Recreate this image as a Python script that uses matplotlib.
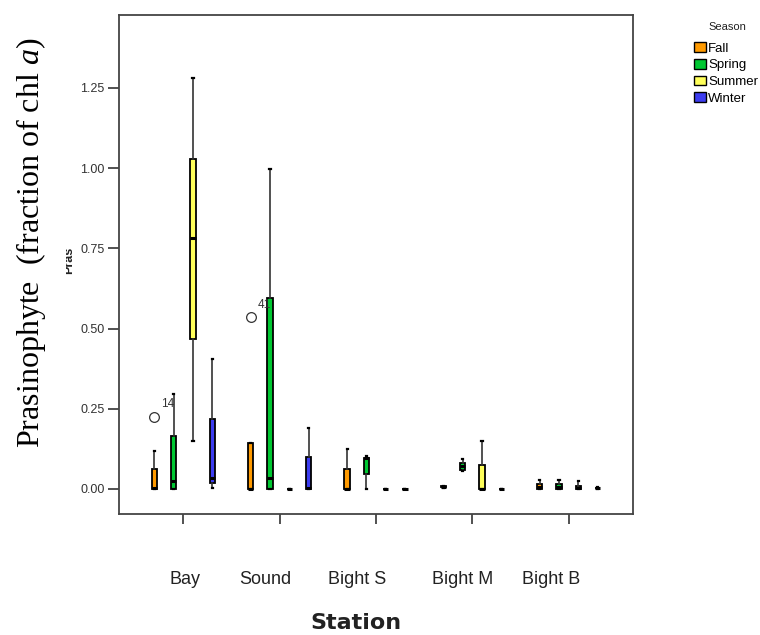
import numpy as np
import matplotlib
matplotlib.use("Agg")
import matplotlib.pyplot as plt
from matplotlib.patches import Patch, Rectangle

plt.rcParams['font.family'] = ['Liberation Sans', 'DejaVu Sans']
plt.rcParams['mathtext.fontset'] = 'custom'
plt.rcParams['mathtext.rm'] = 'Liberation Serif'
plt.rcParams['mathtext.it'] = 'Liberation Serif:italic'

# data
stations = ['Bay', 'Sound', 'Bight S', 'Bight M', 'Bight B']
seasons = ['Fall', 'Spring', 'Summer', 'Winter']
colors = {'Fall': '#FF9A00', 'Spring': '#00C832', 'Summer': '#FFFF5A', 'Winter': '#3C3CF0'}

# one row per station, one column per season
whislo = [[0.0, 0.0, 0.151, 0.002],
          [0.0, 0.0, 0.0, 0.0],
          [0.0, 0.0, 0.0, 0.0],
          [0.004, 0.057, 0.0, 0.0],
          [0.0, 0.0, 0.0, 0.001]]
q1 = [[0.0, 0.0, 0.467, 0.018],
      [0.0, 0.0, 0.0, 0.0],
      [0.0, 0.046, 0.0, 0.0],
      [0.005, 0.059, 0.0, 0.0],
      [0.0, 0.0, 0.0, 0.002]]
med = [[0.003, 0.026, 0.781, 0.033],
       [0.0, 0.033, 0.0, 0.003],
       [0.0, 0.096, 0.0, 0.0],
       [0.007, 0.07, 0.0, 0.0],
       [0.006, 0.006, 0.004, 0.003]]
q3 = [[0.061, 0.165, 1.03, 0.218],
      [0.144, 0.595, 0.0, 0.099],
      [0.061, 0.098, 0.0, 0.0],
      [0.009, 0.08, 0.075, 0.0],
      [0.016, 0.016, 0.01, 0.004]]
whishi = [[0.119, 0.295, 1.28, 0.406],
          [0.144, 0.997, 0.0, 0.191],
          [0.125, 0.104, 0.0, 0.0],
          [0.010, 0.093, 0.151, 0.0],
          [0.028, 0.028, 0.025, 0.005]]
# outliers: (station, season, value, case label)
outliers = [(0, 0, 0.225, '14'), (1, 0, 0.535, '41')]

ytick_vals = [0.0, 0.25, 0.50, 0.75, 1.00, 1.25]

fig = plt.figure(figsize=(7.6, 6.35), dpi=100)
ax = fig.add_axes([0.156, 0.1906, 0.6765, 0.7863])

offsets = [-0.3, -0.1, 0.1, 0.3]
width = 0.055
for i in range(len(stations)):
    for j, s in enumerate(seasons):
        st = dict(whislo=whislo[i][j], q1=q1[i][j], med=med[i][j],
                  q3=q3[i][j], whishi=whishi[i][j], fliers=[])
        ax.bxp([st], positions=[i + offsets[j]], widths=width, patch_artist=True,
               showfliers=False, capwidths=0.012,
               boxprops=dict(facecolor=colors[s], edgecolor='black', linewidth=1.3),
               medianprops=dict(color='black', linewidth=2.2),
               whiskerprops=dict(color='#333333', linewidth=1.2),
               capprops=dict(color='black', linewidth=1.6),
               manage_ticks=False)

for i, j, v, lab in outliers:
    x = i + offsets[j]
    ax.plot(x, v, 'o', mfc='white', mec='#333333', ms=7, mew=0.9)
    ax.annotate(lab, (x, v), xytext=(5, 7), textcoords='offset points',
                fontsize=8.5, color='#333333')

ax.set_xlim(-0.673, 4.665)
ax.set_ylim(-0.078, 1.4785)
ax.set_yticks(ytick_vals)
ax.set_yticklabels(['%.2f' % v for v in ytick_vals], fontsize=9, color='#333333')
ax.set_xticks(range(len(stations)))
ax.set_xticklabels([])
ax.tick_params(axis='y', length=8, width=1.2, color='#333333', pad=2)
ax.tick_params(axis='x', length=7, width=1.2, color='#333333')
for sp in ax.spines.values():
    sp.set_color('#444444')
    sp.set_linewidth(1.3)

# station labels sit a little off their ticks in the original
label_shift = [0.02, -0.15, -0.2, -0.1, -0.18]
for i, name in enumerate(stations):
    ax.text(i + label_shift[i], -0.283, name, ha='center', va='center',
            fontsize=13, color='#222222', transform=ax.transData, clip_on=False)

fig.text(356 / 760, 1 - 623 / 635, 'Station', ha='center', va='center',
         fontsize=16, fontweight='bold', family='DejaVu Sans', color='#222222')

# leftover SPSS label, half hidden behind the added one
fig.text(69 / 760, 1 - 260 / 635, 'Pras', rotation=90, ha='center', va='center',
         fontsize=9, fontweight='bold', color='#222222')
fig.patches.append(Rectangle((50 / 760, 1 - 285 / 635), 16 / 760, 50 / 635,
                             transform=fig.transFigure, facecolor='white',
                             edgecolor='none', zorder=5))

fig.text(31 / 760, 1 - 243 / 635, r'Prasinophyte  (fraction of chl $\mathit{a}$)',
         rotation=90, ha='center', va='center', fontsize=23,
         family='Liberation Serif', color='black', zorder=6)

handles = [Patch(facecolor=colors[s], edgecolor='black', linewidth=1.0, label=s)
           for s in seasons]
fig.text(727 / 760, 1 - 27 / 635, 'Season', ha='center', va='center', fontsize=8,
         color='#222222')
leg = fig.legend(handles=handles, loc='upper left', bbox_to_anchor=(685 / 760, 1 - 33 / 635),
                 frameon=False, fontsize=9.5,
                 handlelength=0.9, handleheight=0.75, handletextpad=0.15,
                 labelspacing=0.32, borderpad=0.2)

fig.savefig('out.png', dpi=100)
